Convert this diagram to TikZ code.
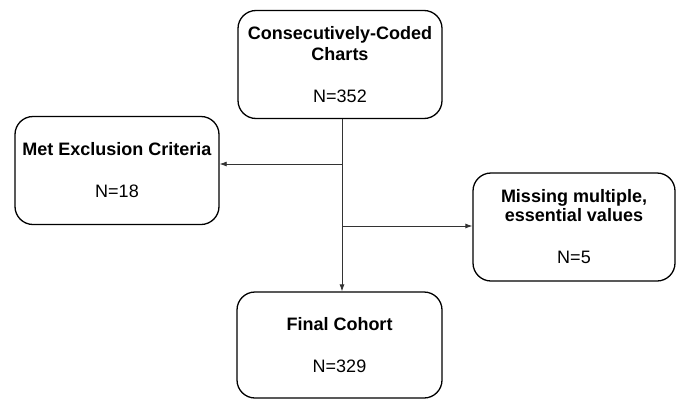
\documentclass[tikz,border=0pt]{standalone}
\usepackage{fontspec}
\setmainfont{Liberation Sans}
\usetikzlibrary{arrows.meta,positioning,calc}

\begin{document}
\begin{tikzpicture}[
  x=1pt, y=-1pt,
  stagebox/.style={draw, line width=1.3pt, rounded corners=18pt, align=center, minimum width=204pt, minimum height=108pt, inner sep=0pt, font=\fontsize{18}{21}\selectfont},
  arr/.style={-{Latex[length=7pt,width=5pt]}, line width=0.8pt, draw=black!80}
]
\useasboundingbox (0,0) rectangle (682,399);

\node[stagebox] (charts) at (340,64.5) {\textbf{Consecutively-Coded}\\\textbf{Charts}\\[21pt]N=352};
\node[stagebox] (excl) at (117,170.5) {\textbf{Met Exclusion Criteria}\\[21pt]N=18};
\node[stagebox, minimum width=202pt] (missing) at (574,227) {\textbf{Missing multiple,}\\[-2pt]\textbf{essential values}\\[21pt]N=5};
\node[stagebox, minimum width=205pt, minimum height=106pt] (cohort) at (339.5,345) {\textbf{Final Cohort}\\[21pt]N=329};

\coordinate (splitL) at (342,164);
\coordinate (splitR) at (343,226);

\draw[arr] (charts.south -| splitL) -- (cohort.north -| splitL);
\draw[arr] (splitL) -- (splitL -| excl.east);
\draw[arr] (splitR) -- (splitR -| missing.west);

\end{tikzpicture}
\end{document}
